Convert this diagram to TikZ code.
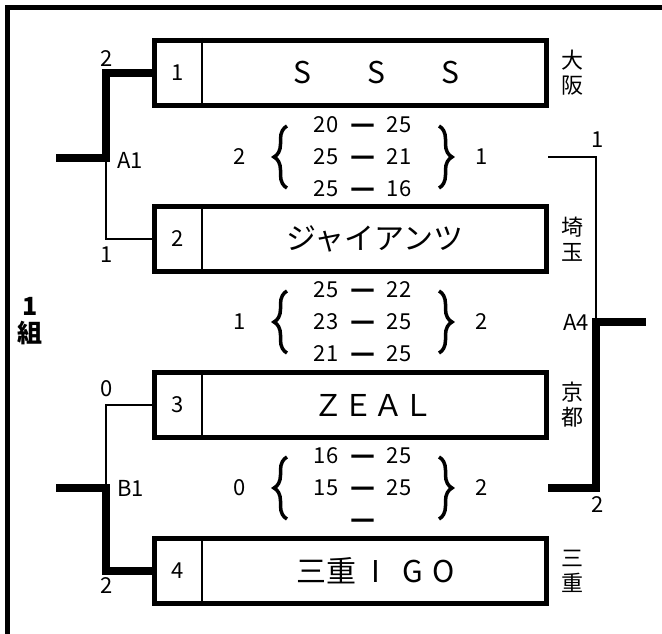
\documentclass[tikz,border=0pt]{standalone}
\usepackage{fontspec}
\setmainfont{Noto Sans CJK JP}
\newfontfamily\dashfont{DejaVu Sans}
\usetikzlibrary{decorations.pathreplacing}
\newcommand{\Spts}[2]{\makebox[48pt]{#1\vphantom{0}}\makebox[25pt]{\dashfont\bfseries\fontsize{25pt}{25pt}\selectfont —}\makebox[48pt]{#2}}
\newcommand{\Sletter}[2]{\makebox[#1pt]{#2}}

\begin{document}
\begin{tikzpicture}[x=1pt,y=-1pt,
  teambox/.style={draw,line width=5pt,minimum width=392pt,minimum height=65pt,inner sep=0pt},
  small/.style={inner sep=0pt,font=\fontsize{22pt}{24pt}\selectfont},
  teamname/.style={inner sep=0pt,font=\fontsize{30pt}{32pt}\selectfont},
  pref/.style={inner sep=0pt,align=center,font=\fontsize{22pt}{25pt}\selectfont},
  win/.style={line width=8pt},
  lose/.style={line width=2.5pt},
  bracetip/.style={decorate,decoration={brace,amplitude=13pt},line width=3.5pt}]
\useasboundingbox (0,0) rectangle (662,634);
% \draw[help lines,step=50] (0,0) grid (662,634);
\draw[line width=5pt] (7,634) -- (7,8) -- (662,8);
\node (grp) [inner sep=0pt,align=center,font=\bfseries\fontsize{25pt}{27pt}\selectfont] at (30,321) {1\\組};
%
\node (t1) [teambox] at (350.5,73) {};
\node (t2) [teambox] at (350.5,239) {};
\node (t3) [teambox] at (350.5,405) {};
\node (t4) [teambox] at (350.5,571) {};
\draw[lose] ([xshift=50pt]t1.north west) -- ([xshift=50pt]t1.south west);
\draw[lose] ([xshift=50pt]t2.north west) -- ([xshift=50pt]t2.south west);
\draw[lose] ([xshift=50pt]t3.north west) -- ([xshift=50pt]t3.south west);
\draw[lose] ([xshift=50pt]t4.north west) -- ([xshift=50pt]t4.south west);
\node (s1) [small] at (178,73) {1};
\node (s2) [small] at (178,239) {2};
\node (s3) [small] at (178,405) {3};
\node (s4) [small] at (178,571) {4};
\node (m1) [teamname] at (376,73) {\Sletter{74}{S}\Sletter{74}{S}\Sletter{74}{S}};
\node (m2) [teamname] at (375,239) {ジャイアンツ};
\node (m3) [teamname] at (373,405) {ＺＥＡＬ};
\node (m4) [teamname,anchor=west] at (296,571) {三重\Sletter{40}{I}\Sletter{34}{G}\Sletter{26}{O}};
\node (p1) [pref] at (572,73) {大\\阪};
\node (p2) [pref] at (572,239) {埼\\玉};
\node (p3) [pref] at (572,405) {京\\都};
\node (p4) [pref] at (572,571) {三\\重};
%
\coordinate (a1) at (106,158);
\coordinate (a1out) at (56,158);
\coordinate (b1) at (106,488);
\coordinate (b1out) at (56,488);
\coordinate (a4) at (596,322);
\coordinate (a4out) at (646,322);
\coordinate (a1win) at (548,157);
\coordinate (b1win) at (548,488);
\draw[win] (t1.west) -| (a1) -- (a1out);
\draw[lose] (t2.west) -| (a1);
\draw[lose] (t3.west) -| (b1);
\draw[win] (t4.west) -| (b1) -- (b1out);
\draw[lose] (a1win) -| (a4);
\draw[win] (b1win) -| (a4) -- (a4out);
\node (l1) [small] at (107,59) {2};
\node (l2) [small] at (107,255) {1};
\node (la1) [small,anchor=west] at (117,160) {A1};
\node (l3) [small] at (107,389) {0};
\node (lb1) [small,anchor=west] at (117,488) {B1};
\node (l4) [small] at (107,586) {2};
\node (l5) [small] at (598,140) {1};
\node (la4) [small,anchor=east] at (589,322) {A4};
\node (l6) [small] at (598,505) {2};
%
\node (w1) [small] at (240,157) {2};
\node (r1a) [small] at (362.5,125) {\Spts{20}{25}};
\node (r1b) [small] at (362.5,157) {\Spts{25}{21}};
\node (r1c) [small] at (362.5,189) {\Spts{25}{16}};
\node (v1) [small] at (482,157) {1};
\draw[bracetip] (287,188) -- (287,126);
\draw[bracetip] (439,126) -- (439,188);
%
\node (w2) [small] at (240,322) {1};
\node (r2a) [small] at (362.5,290) {\Spts{25}{22}};
\node (r2b) [small] at (362.5,322) {\Spts{23}{25}};
\node (r2c) [small] at (362.5,354) {\Spts{21}{25}};
\node (v2) [small] at (482,322) {2};
\draw[bracetip] (287,353) -- (287,291);
\draw[bracetip] (439,291) -- (439,353);
%
\node (w3) [small] at (240,488) {0};
\node (r3a) [small] at (362.5,456) {\Spts{16}{25}};
\node (r3b) [small] at (362.5,488) {\Spts{15}{25}};
\node (r3c) [small] at (362.5,520) {\Spts{}{}};
\node (v3) [small] at (482,488) {2};
\draw[bracetip] (287,519) -- (287,457);
\draw[bracetip] (439,457) -- (439,519);
\end{tikzpicture}
\end{document}
